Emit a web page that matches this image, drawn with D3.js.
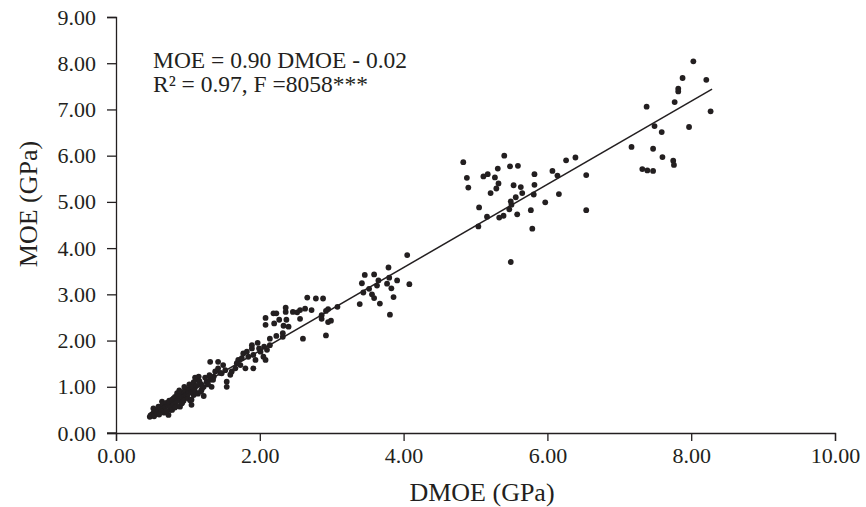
<!DOCTYPE html>
<html><head><meta charset="utf-8">
<script src="https://cdn.jsdelivr.net/npm/d3@7"></script>
<style>
body{margin:0;background:#fff;}
text{font-family:"Liberation Serif","Times New Roman",serif;fill:#231f20;}
</style></head>
<body><svg id="c" width="866" height="507"></svg>
<script>
const dmoe = [
0.47,0.52,0.52,0.59,0.64,0.66,0.68,0.73,0.75,0.78,0.80,0.85,0.87,0.89,0.91,0.96,0.98,1.03,1.03,1.05,1.08,1.10,1.12,1.15,1.17,1.19,1.22,1.26,1.31,1.33,1.36,1.38,1.31,1.42,1.42,1.49,1.47,1.52,1.54,1.54,1.59,1.61,1.66,1.68,1.70,1.73,1.75,1.77,1.80,1.82,1.84,1.89,1.91,1.91,1.94,2.01,2.05,2.08,2.10,
0.50,0.55,0.58,0.60,0.62,0.65,0.68,0.70,0.72,0.74,0.76,0.78,0.80,0.82,0.84,0.86,0.88,0.90,0.92,0.94,0.95,0.97,1.00,1.02,1.04,1.06,1.08,1.10,1.12,1.14,1.16,1.18,1.20,1.24,1.28,0.48,0.53,0.57,0.63,0.67,0.78,0.85,1.00,1.05,1.22,
0.60,0.70,0.82,0.92,1.00,1.10,1.18,1.30,0.95,1.35,1.45,0.88,
2.66,2.78,2.88,3.08,2.95,2.92,2.86,2.86,2.99,2.95,2.92,2.60,2.72,2.63,2.56,2.52,2.46,2.56,2.36,2.36,2.19,2.23,2.08,2.08,2.20,2.27,2.37,2.33,2.40,2.23,2.32,2.32,2.14,1.97,1.89,2.06,2.14,1.99,
4.05,3.79,3.46,3.59,3.42,3.65,3.80,3.91,4.08,3.77,3.83,3.63,3.52,3.44,3.56,3.59,3.86,3.39,3.67,3.81,
4.83,5.40,4.88,4.90,5.11,5.17,5.27,5.31,5.48,5.59,5.32,5.29,5.21,5.53,5.63,5.65,5.82,5.82,5.81,6.07,6.14,6.26,6.39,6.54,6.54,6.16,5.97,5.77,5.79,5.56,5.49,5.50,5.47,5.58,5.39,5.33,5.05,5.16,5.04,5.49,
8.03,7.88,8.21,7.82,7.82,7.77,7.38,8.27,7.49,7.59,7.97,7.17,7.47,7.60,7.75,7.76,7.32,7.39,7.47
];
const moe = [
0.35,0.43,0.53,0.57,0.68,0.58,0.46,0.39,0.50,0.64,0.75,0.86,0.71,0.57,0.64,0.79,0.86,0.93,0.71,0.61,0.82,1.00,1.15,1.22,1.07,0.93,1.00,1.11,1.15,1.00,1.22,1.33,1.54,1.54,1.40,1.47,1.29,1.36,1.11,1.00,1.26,1.33,1.40,1.51,1.58,1.47,1.62,1.72,1.40,1.76,1.65,1.83,1.69,1.40,1.58,1.76,1.65,1.58,1.80,
0.40,0.48,0.45,0.50,0.55,0.62,0.55,0.65,0.60,0.70,0.55,0.72,0.62,0.78,0.68,0.80,0.75,0.85,0.78,0.70,0.90,0.82,0.95,1.05,0.88,1.00,1.10,0.90,1.02,0.85,1.12,1.05,0.98,1.20,1.05,0.38,0.36,0.42,0.48,0.44,0.50,0.58,0.75,0.72,0.80,
0.40,0.48,0.55,0.65,0.85,1.20,0.90,1.25,1.00,1.15,1.30,0.92,
2.93,2.91,2.91,2.73,2.68,2.64,2.55,2.47,2.43,2.40,2.11,2.04,2.66,2.69,2.66,2.61,2.62,2.47,2.71,2.62,2.59,2.59,2.49,2.34,2.37,2.45,2.45,2.32,2.30,2.10,2.16,2.08,2.04,1.95,1.90,1.87,1.90,1.83,
3.85,3.58,3.42,3.43,3.24,3.30,3.36,3.30,3.22,3.23,3.13,3.19,3.12,3.04,3.00,2.92,2.94,2.79,2.80,2.56,
5.86,6.00,5.52,5.31,5.55,5.60,5.53,5.72,5.77,5.78,5.40,5.29,5.19,5.36,5.32,5.19,5.60,5.37,5.16,5.67,5.57,5.90,5.96,5.58,4.82,5.17,4.99,4.82,4.42,5.10,5.01,4.94,4.84,4.73,4.70,4.66,4.88,4.68,4.47,3.70,
8.04,7.68,7.64,7.45,7.39,7.16,7.06,6.96,6.64,6.51,6.62,6.19,6.15,5.97,5.89,5.80,5.71,5.68,5.67
];
const xTicks = [0,2,4,6,8,10];
const yTicks = [0,1,2,3,4,5,6,7,8,9];
const slope = 0.90, intercept = -0.02;
const fitRange = [0.5, 8.29];
const eqLines = ["MOE = 0.90 DMOE - 0.02", "R² = 0.97, F =8058***"];
const xTitle = "DMOE (GPa)", yTitle = "MOE (GPa)";

const svg = d3.select("#c");
const x = d3.scaleLinear().domain([0,10]).range([116,835]);
const y = d3.scaleLinear().domain([0,9]).range([433,17]);
const ink = "#231f20";

const xa = svg.append("g").attr("transform","translate(0,433)")
  .call(d3.axisBottom(x).tickValues(xTicks).tickFormat(d3.format(".2f")).tickSizeOuter(0).tickSize(8).tickPadding(6));
const ya = svg.append("g").attr("transform","translate(116,0)")
  .call(d3.axisLeft(y).tickValues(yTicks).tickFormat(d3.format(".2f")).tickSizeOuter(0).tickSize(9).tickPadding(11));
[xa,ya].forEach(a=>{
  a.selectAll("path,line").attr("stroke",ink).attr("stroke-width",1.3);
  a.selectAll("text").attr("font-size",22).attr("fill",ink).style("font-family",'"Liberation Serif",serif');
});
svg.append("line").attr("x1",107).attr("x2",116).attr("y1",433).attr("y2",433).attr("stroke",ink).attr("stroke-width",1.3);

const pts = dmoe.map((d,i)=>[d,moe[i]]);
svg.append("g").selectAll("circle").data(pts).join("circle")
  .attr("cx",d=>x(d[0])).attr("cy",d=>y(d[1])).attr("r",2.9).attr("fill",ink);

svg.append("line")
  .attr("x1",x(fitRange[0])).attr("y1",y(slope*fitRange[0]+intercept))
  .attr("x2",x(fitRange[1])).attr("y2",y(slope*fitRange[1]+intercept))
  .attr("stroke",ink).attr("stroke-width",1.5);

svg.append("text").attr("x",153).attr("y",68).attr("font-size",23.5).text(eqLines[0]);
svg.append("text").attr("x",153).attr("y",92).attr("font-size",23.5).text(eqLines[1]);

svg.append("text").attr("x",482).attr("y",501).attr("text-anchor","middle").attr("font-size",26).text(xTitle);
svg.append("text").attr("transform","translate(37,204) rotate(-90)").attr("text-anchor","middle").attr("font-size",26).text(yTitle);
</script></body></html>
